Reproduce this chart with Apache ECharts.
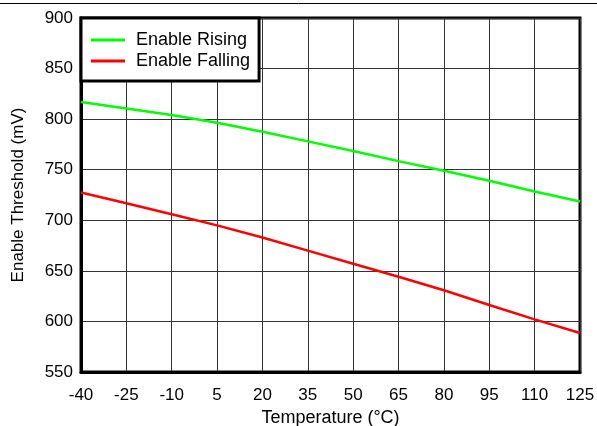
<!DOCTYPE html>
<html>
<head>
<meta charset="utf-8">
<script src="https://cdn.jsdelivr.net/npm/echarts@6/dist/echarts.min.js"></script>
<style>
  html, body { margin: 0; padding: 0; background: #fff; }
  #chart { width: 597px; height: 426px; }
</style>
</head>
<body>
<div id="chart"></div>
<script>
// temperature points (°C)
const temps = [-40, -25, -10, 5, 20, 35, 50, 65, 80, 95, 110, 125];
// enable threshold (mV)
const rising = [817, 810.5, 804, 796.5, 787.5, 778, 768.5, 758.5, 749, 739, 728.5, 718.5];
const falling = [727.5, 716.8, 706, 695, 683, 670, 657, 644.2, 630.8, 616.2, 602, 588.6];

const font = 'Liberation Sans, Arial, sans-serif';

const chart = echarts.init(document.getElementById('chart'));
chart.setOption({
  backgroundColor: '#fff',
  animation: false,
  textStyle: { fontFamily: font },
  graphic: [
    {
      type: 'line',
      shape: { x1: 0, y1: 3.5, x2: 597, y2: 3.5 },
      style: { stroke: '#000', lineWidth: 1 }
    }
  ],
  grid: {
    left: 81, right: 17, top: 18, bottom: 54,
    outerBoundsMode: 'none',
    show: true,
    borderColor: '#000',
    borderWidth: 3
  },
  legend: {
    orient: 'vertical',
    left: 81,
    top: 18,
    padding: [13, 9, 11, 10],
    itemGap: 3,
    itemWidth: 34,
    itemHeight: 3,
    backgroundColor: '#fff',
    borderColor: '#000',
    borderWidth: 3,
    textStyle: { fontSize: 18, color: '#000', fontFamily: font, padding: [0, 0, 0, 6] },
    data: [
      { name: 'Enable Rising', icon: 'rect' },
      { name: 'Enable Falling', icon: 'rect' }
    ]
  },
  xAxis: {
    type: 'value',
    min: -40, max: 125, interval: 15,
    name: 'Temperature (°C)',
    nameLocation: 'middle',
    nameGap: 32,
    nameTextStyle: { fontSize: 18, color: '#000', fontFamily: font },
    axisLine: { show: true, onZero: false, lineStyle: { color: '#000', width: 3 } },
    axisTick: { show: false },
    axisLabel: { fontSize: 17, color: '#000', margin: 15, fontFamily: font },
    splitLine: { show: true, lineStyle: { color: '#333', width: 1 } }
  },
  yAxis: {
    type: 'value',
    min: 550, max: 900, interval: 50,
    name: 'Enable Threshold (mV)',
    nameLocation: 'middle',
    nameGap: 54,
    nameTextStyle: { fontSize: 17, color: '#000', fontFamily: font },
    axisLine: { show: true, onZero: false, lineStyle: { color: '#000', width: 3 } },
    axisTick: { show: false },
    axisLabel: { fontSize: 17, color: '#000', margin: 8, fontFamily: font },
    splitLine: { show: true, lineStyle: { color: '#333', width: 1 } }
  },
  series: [
    {
      name: 'Enable Rising',
      type: 'line',
      data: temps.map((t, i) => [t, rising[i]]),
      showSymbol: false,
      lineStyle: { color: '#00ff00', width: 2.5 },
      itemStyle: { color: '#00ff00' },
      z: 3
    },
    {
      name: 'Enable Falling',
      type: 'line',
      data: temps.map((t, i) => [t, falling[i]]),
      showSymbol: false,
      lineStyle: { color: '#ff0000', width: 2.5 },
      itemStyle: { color: '#ff0000' },
      z: 3
    }
  ]
});
</script>
</body>
</html>
